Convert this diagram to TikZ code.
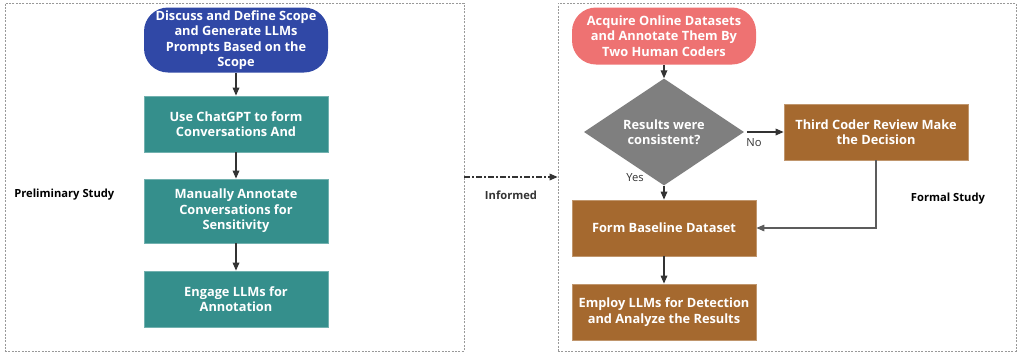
\documentclass[tikz,border=0pt]{standalone}
\usepackage{fontspec}
\setmainfont{Open Sans}
\usetikzlibrary{arrows.meta,shapes.geometric}
\definecolor{scopeblue}{HTML}{3048A6}
\definecolor{acqpink}{HTML}{EE7272}
\definecolor{stepteal}{HTML}{358F8C}
\definecolor{stepbrown}{HTML}{A5692F}
\definecolor{decgray}{HTML}{7F7F7F}
\definecolor{arrowgray}{HTML}{333333}
\begin{document}
\begin{tikzpicture}[x=0.75pt,y=-0.75pt,
  font=\fontsize{9.6}{11.6}\selectfont,
  frame/.style={draw=gray!80, dash pattern=on 1.5pt off 1pt, line width=0.6pt, inner sep=0pt},
  boxbase/.style={text=white, font=\fontsize{9.6}{11.6}\selectfont\bfseries, align=center, inner sep=2pt, minimum width=138pt},
  startbox/.style={boxbase, rounded corners=18pt, minimum height=48.75pt},
  tealbox/.style={boxbase, fill=stepteal, draw=stepteal!70!white, line width=0.6pt, minimum height=42pt},
  brownbox/.style={boxbase, fill=stepbrown, draw=stepbrown!70!white, line width=0.6pt, minimum height=42pt},
  decbox/.style={boxbase, diamond, fill=decgray, inner sep=0pt, minimum width=120pt, minimum height=60pt},
  flow/.style={-{Triangle[length=6pt,width=5pt]}, draw=arrowgray, line width=0.9pt},
  sidelabel/.style={font=\fontsize{8.4}{10}\selectfont\bfseries, text=black},
  branch/.style={font=\fontsize{8.4}{10}\selectfont, text=arrowgray}]
\useasboundingbox (0,0) rectangle (1017,354);
% frames
\node[frame, minimum width=344.25pt, minimum height=261pt] (prelimframe) at (234.5,177) {};
\node[frame, minimum width=343.5pt, minimum height=261pt] (formalframe) at (787,177) {};
\node[sidelabel, anchor=west, inner sep=0pt] (prelimlabel) at (14,195) {Preliminary Study};
\node[sidelabel] (formallabel) at (948,199) {Formal Study};
% preliminary study
\node[startbox, fill=scopeblue] (scope) at (236,40) {Discuss and Define Scope\\and Generate LLMs\\Prompts Based on the\\Scope};
\node[tealbox] (chatgpt) at (236,124) {Use ChatGPT to form\\Conversations And};
\node[tealbox, minimum height=48pt] (manual) at (236,211) {Manually Annotate\\Conversations for\\Sensitivity};
\node[tealbox] (engage) at (236,299) {Engage LLMs for\\Annotation};
\draw[flow] (scope) -- (chatgpt);
\draw[flow] (chatgpt) -- (manual);
\draw[flow] (manual) -- (engage);
% informed
\draw[flow, dash pattern=on 4pt off 2pt on 1pt off 2pt] (prelimframe.east) -- (formalframe.west);
\node[sidelabel, text=arrowgray] (informed) at (511,195) {Informed};
% formal study
\node[startbox, fill=acqpink, minimum height=42.75pt] (acquire) at (664,36) {Acquire Online Datasets\\and Annotate Them By\\Two Human Coders};
\node[decbox] (consistent) at (664,132) {Results were\\consistent?};
\node[brownbox] (third) at (876,132) {Third Coder Review Make\\the Decision};
\node[brownbox] (baseline) at (664,228) {Form Baseline Dataset};
\node[brownbox] (employ) at (664,312) {Employ LLMs for Detection\\and Analyze the Results};
\draw[flow] (acquire) -- (consistent);
\draw[flow, shorten <=2pt] (consistent) -- (third);
\node[branch] (nolabel) at (754,143) {No};
\draw[flow] (consistent) -- (baseline);
\node[branch] (yeslabel) at (635,178) {Yes};
\draw[flow, line width=0.8pt, draw=arrowgray!80] (third) |- (baseline);
\draw[flow] (baseline) -- (employ);
\end{tikzpicture}
\end{document}
